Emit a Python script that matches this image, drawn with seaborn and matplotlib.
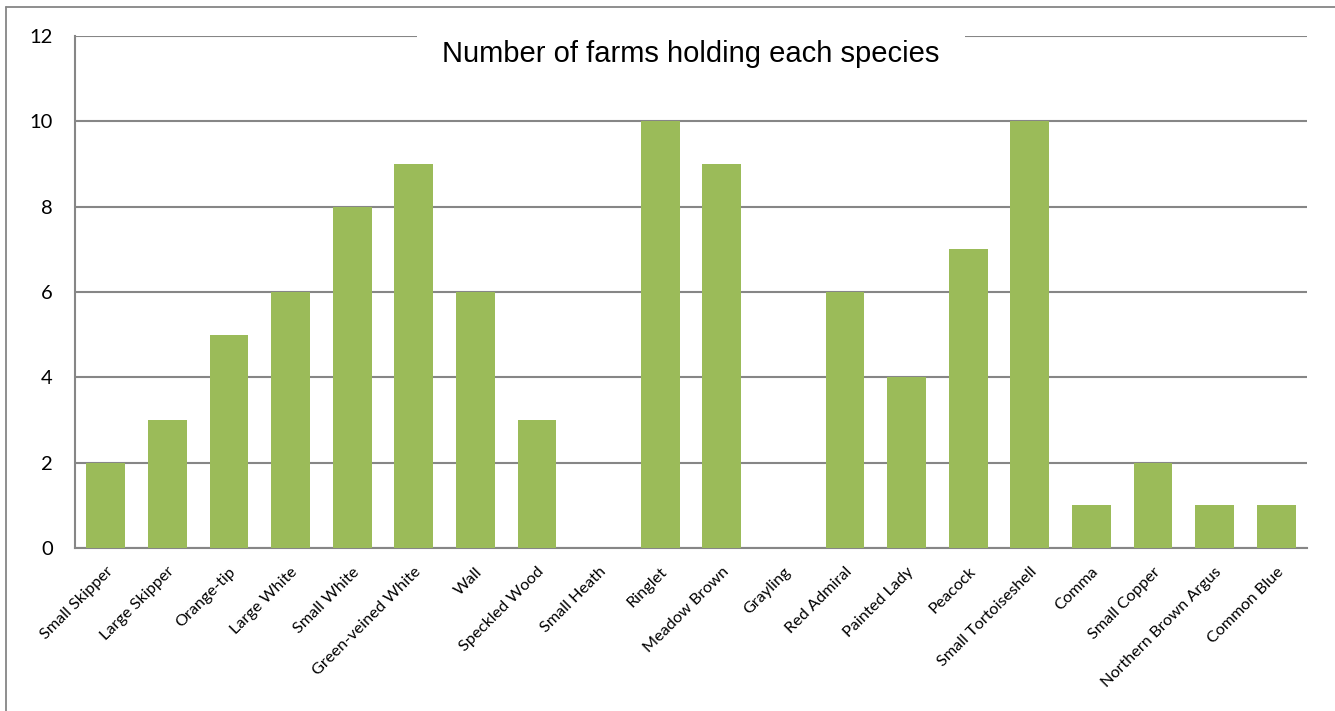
import matplotlib.pyplot as plt
import seaborn as sns
import pandas as pd
from matplotlib.lines import Line2D

# Species and number of farms holding each
species = ["Small Skipper", "Large Skipper", "Orange-tip", "Large White", "Small White",
           "Green-veined White", "Wall", "Speckled Wood", "Small Heath", "Ringlet",
           "Meadow Brown", "Grayling", "Red Admiral", "Painted Lady", "Peacock",
           "Small Tortoiseshell", "Comma", "Small Copper", "Northern Brown Argus", "Common Blue"]
farms = [2, 3, 5, 6, 8, 9, 6, 3, 0, 10, 9, 0, 6, 4, 7, 10, 1, 2, 1, 1]
y_ticks = [0, 2, 4, 6, 8, 10, 12]

df = pd.DataFrame({"Species": species, "Farms": farms})

sns.set_style("white")
plt.rcParams['font.family'] = ['Lato', 'DejaVu Sans']
plt.rcParams['text.color'] = 'black'
plt.rcParams['xtick.color'] = 'black'
plt.rcParams['ytick.color'] = 'black'

fig = plt.figure(figsize=(13.35, 7.11), dpi=100)
ax = fig.add_axes([75 / 1335, 1 - 548 / 711, (1307 - 75) / 1335, (548 - 36) / 711])

grid_col = "#868686"
sns.barplot(data=df, x="Species", y="Farms", color="#9BBB59", saturation=1,
            width=0.63, linewidth=0, ax=ax, zorder=3)

ax.set_ylim(0, 12)
ax.set_xlim(-0.5, len(species) - 0.5)
ax.set_yticks(y_ticks)
ax.set_yticklabels([str(t) for t in y_ticks], fontsize=14.5)
ax.yaxis.grid(True, color=grid_col, linewidth=1.5, zorder=0)
ax.set_axisbelow(True)
ax.set_xlabel("")
ax.set_ylabel("")
ax.tick_params(axis='y', length=0, pad=16)
ax.tick_params(axis='x', length=0, pad=12)
ax.set_xticks(range(len(species)))
ax.set_xticklabels(species, rotation=45, ha='right', rotation_mode='anchor', fontsize=11.7)

for side in ["top", "right"]:
    ax.spines[side].set_visible(False)
for side in ["left", "bottom"]:
    ax.spines[side].set_color(grid_col)
    ax.spines[side].set_linewidth(1.5)

ax.text(0.5, 0.964, "Number of farms holding each species", transform=ax.transAxes,
        ha='center', va='center', fontsize=21, family=['Liberation Sans', 'DejaVu Sans'],
        bbox=dict(facecolor='white', edgecolor='none', pad=18), zorder=5)

# outer chart frame (only left and top edges are visible)
fig.add_artist(Line2D([6 / 1335, 6 / 1335], [0, 1 - 7 / 711], color=grid_col, linewidth=1.3,
                      transform=fig.transFigure))
fig.add_artist(Line2D([6 / 1335, 1], [1 - 7 / 711, 1 - 7 / 711], color=grid_col, linewidth=1.3,
                      transform=fig.transFigure))

fig.savefig("out.png", dpi=100, facecolor="white")
